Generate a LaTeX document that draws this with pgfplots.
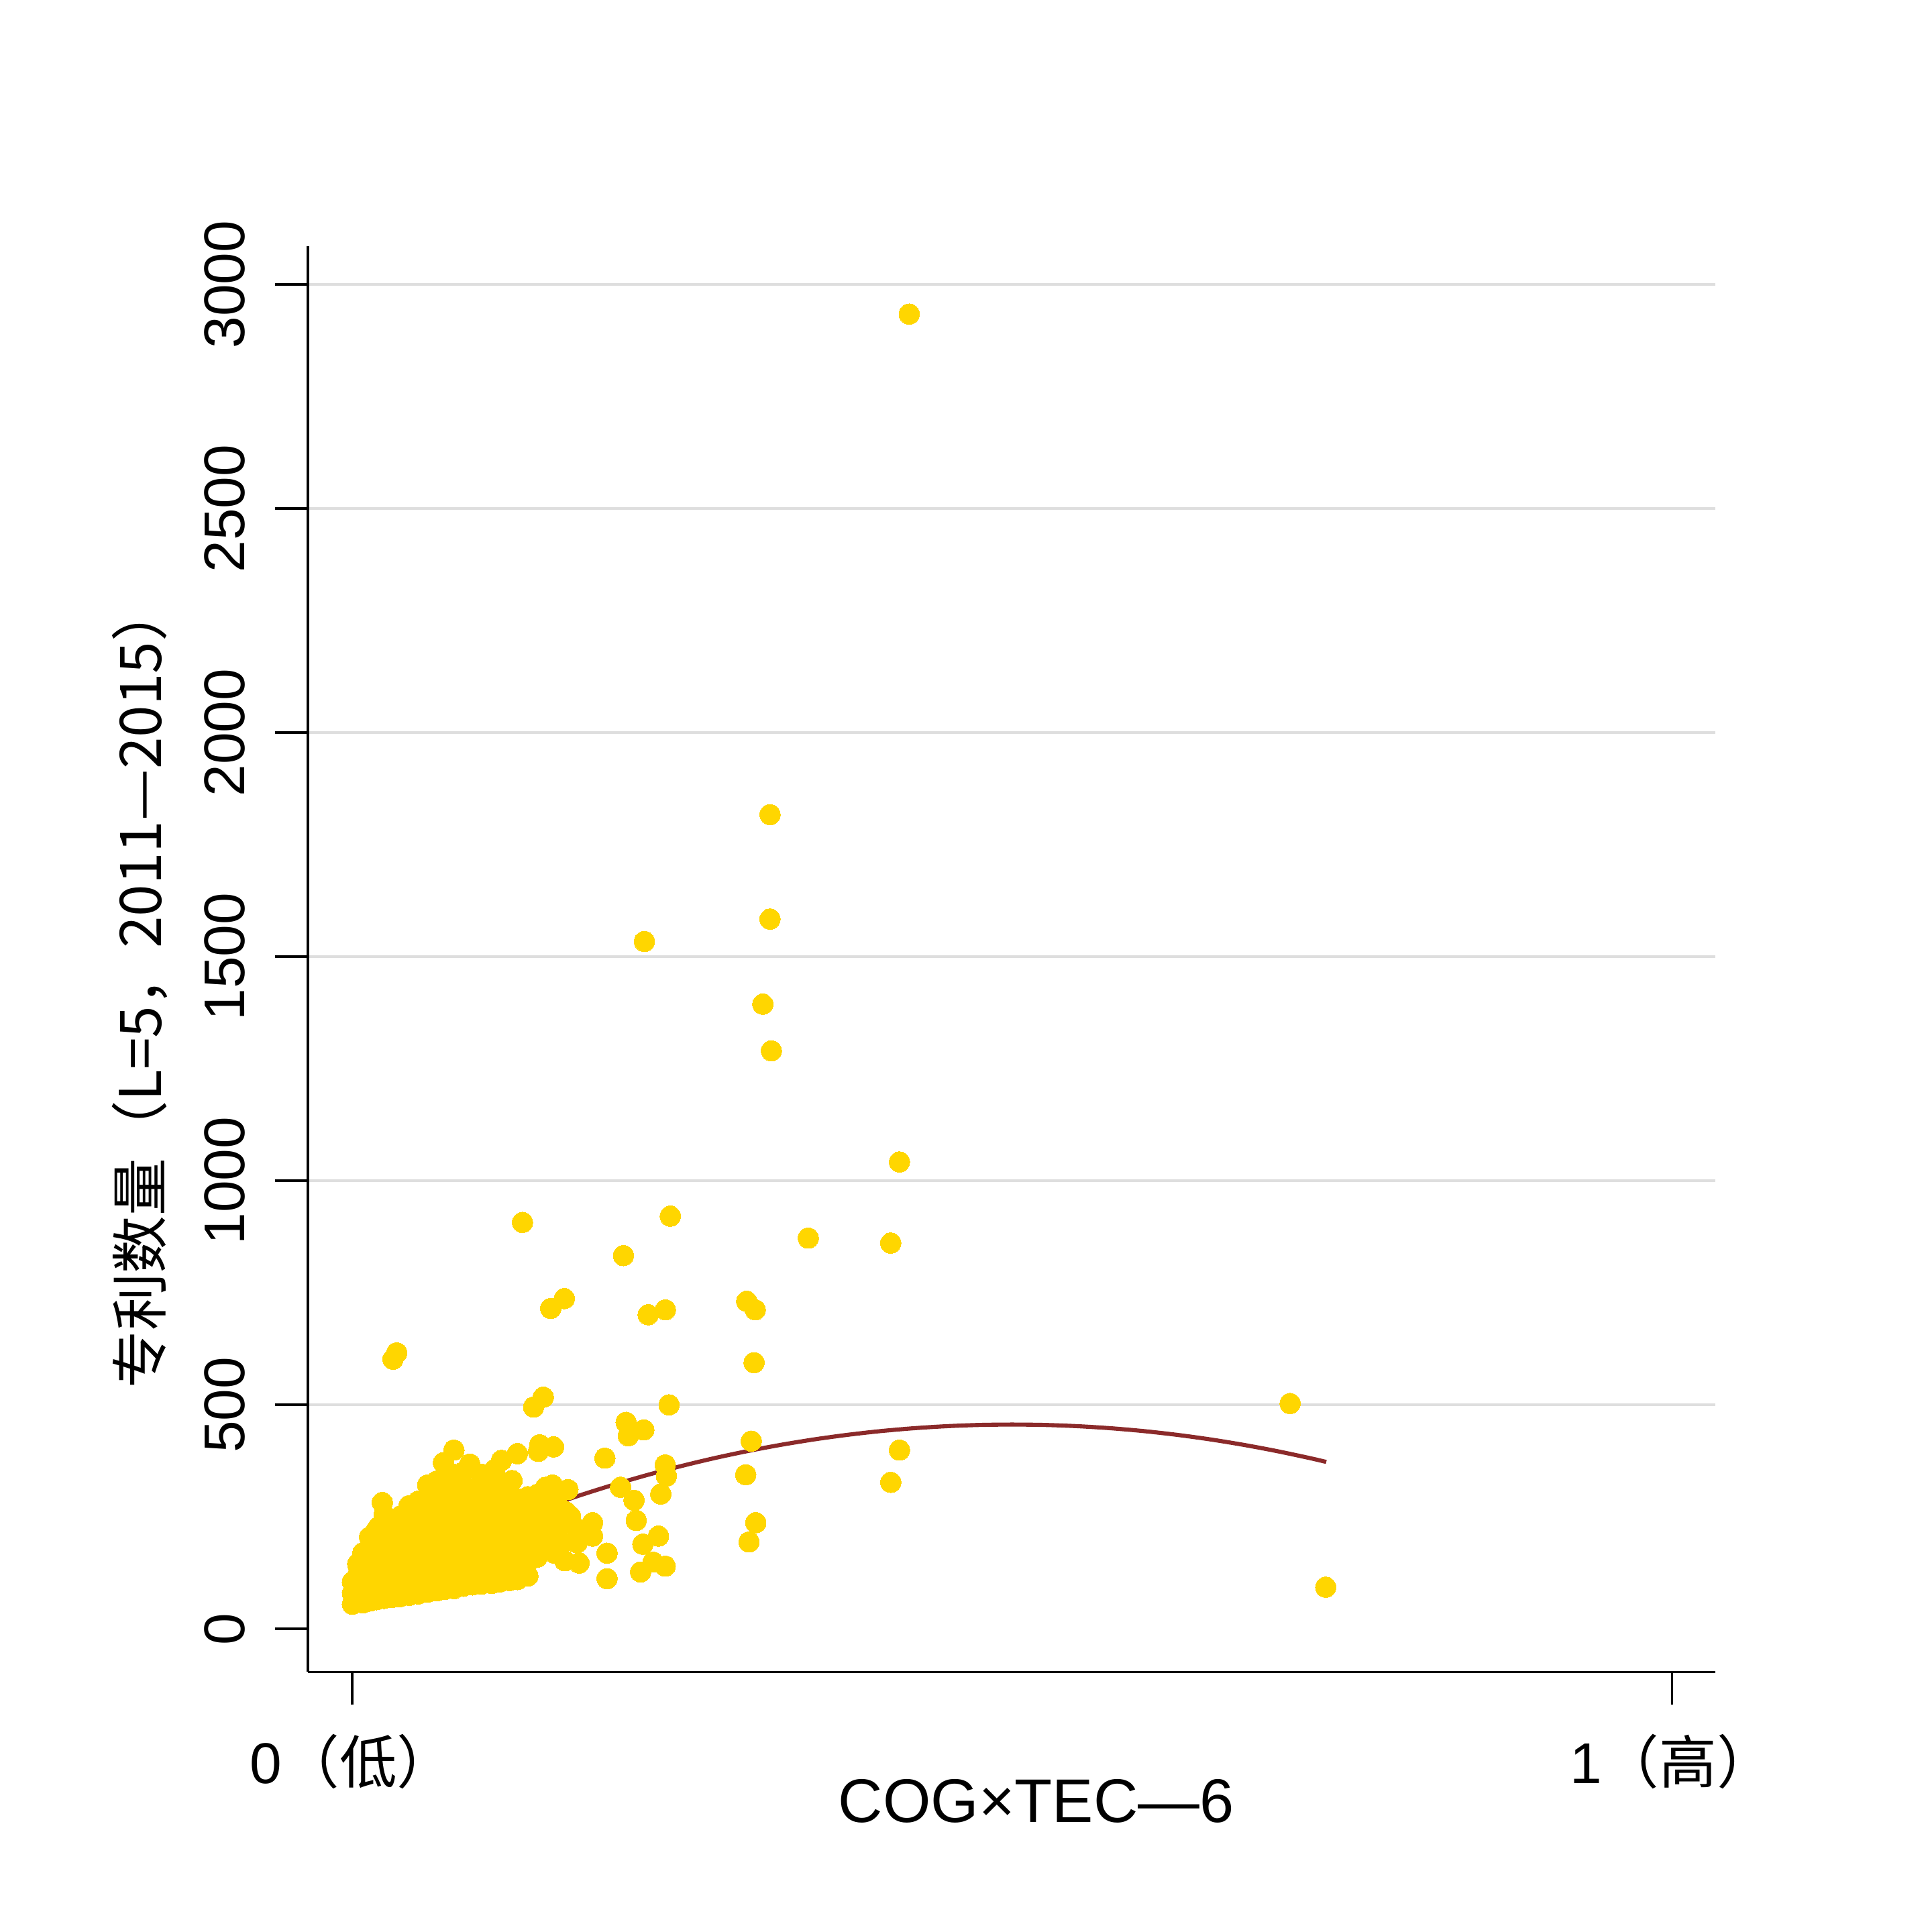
\documentclass[border=0pt]{standalone}
\usepackage{pgfplots}
\pgfplotsset{compat=1.18}
\usepackage{fontspec}
\setmainfont{Liberation Sans}
\newfontfamily\cjk{Noto Sans CJK SC}
\definecolor{ptyellow}{RGB}{255,214,0}
\definecolor{fitred}{RGB}{139,42,42}
\definecolor{gridgray}{RGB}{222,222,222}
\pgfplotstableread{
x y
0.000 55
0.000 80
0.000 105
0.004 60
0.004 90
0.004 120
0.004 145
0.008 58
0.008 85
0.008 112
0.008 140
0.008 170
0.013 62
0.013 92
0.013 122
0.013 152
0.013 182
0.013 205
0.018 65
0.018 95
0.018 128
0.018 160
0.018 190
0.018 220
0.024 68
0.024 100
0.024 132
0.024 165
0.024 198
0.024 230
0.024 255
0.030 70
0.030 102
0.030 135
0.030 170
0.030 205
0.030 240
0.036 72
0.036 105
0.036 140
0.036 175
0.036 210
0.036 245
0.043 75
0.043 108
0.043 142
0.043 178
0.043 212
0.043 248
0.043 275
0.050 78
0.050 110
0.050 145
0.050 180
0.050 215
0.050 250
0.050 285
0.057 82
0.057 115
0.057 150
0.057 185
0.057 220
0.057 255
0.057 290
0.057 321
0.064 85
0.064 118
0.064 152
0.064 188
0.064 225
0.064 260
0.064 295
0.064 330
0.070 88
0.070 120
0.070 155
0.070 192
0.070 228
0.070 265
0.070 300
0.070 340
0.069 371
0.077 90
0.077 125
0.077 160
0.077 195
0.077 232
0.077 270
0.077 305
0.077 345
0.077 399
0.084 95
0.084 128
0.084 162
0.084 198
0.084 235
0.084 272
0.084 310
0.084 350
0.091 98
0.091 130
0.091 165
0.091 200
0.091 238
0.091 275
0.091 312
0.089 368
0.098 100
0.098 135
0.098 170
0.098 205
0.098 242
0.098 280
0.098 318
0.098 345
0.105 102
0.105 138
0.105 172
0.105 208
0.105 245
0.105 282
0.105 320
0.108 356
0.112 105
0.112 140
0.112 175
0.112 210
0.112 248
0.112 285
0.112 322
0.113 376
0.119 108
0.119 142
0.119 178
0.119 215
0.119 250
0.119 288
0.121 331
0.126 112
0.126 145
0.126 180
0.126 218
0.126 255
0.126 290
0.125 391
0.133 118
0.133 150
0.133 185
0.133 220
0.133 258
0.133 295
0.140 160
0.140 195
0.140 230
0.140 265
0.140 300
0.142 411
0.147 205
0.147 240
0.147 275
0.1415 172
0.161 152
0.1588 192
0.1517 316
0.0227 282
0.0196 227
0.0366 252
0.106 102
0.126 112
0.125 110
0.130 118
0.422 2934
0.3165 1817
0.3165 1584
0.2213 1534
0.311 1394
0.3175 1290
0.4146 1042
0.1289 907
0.2409 921
0.3455 872
0.408 861
0.2054 833
0.1606 737
0.1503 715
0.2241 701
0.2372 712
0.2988 731
0.3053 712
0.0336 616
0.0308 602
0.3044 594
0.1447 517
0.1373 495
0.240 500
0.7106 503
0.2074 461
0.2209 444
0.2091 431
0.3023 419
0.4146 399
0.1914 381
0.2371 366
0.238 341
0.2981 344
0.408 327
0.2337 301
0.2032 316
0.2134 287
0.2151 242
0.232 207
0.2201 189
0.3057 237
0.3006 194
0.2278 149
0.2184 127
0.2371 140
0.193 112
0.193 169
0.1718 147
0.1532 169
0.182 237
0.182 207
0.1702 192
0.1651 252
0.1685 227
0.155 222
0.150 242
0.1516 321
0.1634 311
0.1465 316
0.1414 291
0.1465 261
0.145 211
0.155 281
0.162 261
0.7376 93
0.1524 406
0.141 396
}\scatterdata
\pgfplotstableread{
x y
0.000 88
0.025 123.9
0.050 157.9
0.075 190.1
0.100 220.5
0.125 249
0.150 275.7
0.175 300.5
0.200 323.5
0.225 344.7
0.250 364
0.275 381.5
0.300 397.1
0.325 410.9
0.350 422.9
0.375 433
0.400 441.3
0.425 447.7
0.450 452.3
0.475 455.1
0.500 456
0.525 455.1
0.550 452.3
0.575 447.7
0.600 441.3
0.625 433
0.650 422.9
0.675 410.9
0.700 397.1
0.725 381.5
0.738 372.6
}\fitdata
\begin{document}
\begin{tikzpicture}
\path[use as bounding box] (0,0) rectangle (470.4pt,470.4pt);
\begin{axis}[
  at={(75pt,63.3pt)}, anchor=south west,
  width=342.6pt, height=347.1pt, scale only axis,
  xmin=-0.0336, xmax=1.0327, ymin=-96.2, ymax=3085,
  axis x line*=bottom, axis y line*=left,
  axis line style={line width=0.6pt, black},
  tick align=outside, major tick length=8pt,
  tick style={line width=0.6pt, black},
  xtick={0,1}, xticklabels={0\cjk{（低）}, 1\cjk{（高）}},
  ytick={500,1000,...,3000},
  extra y ticks={0}, extra y tick style={grid=none},
  ymajorgrids, grid style={gridgray, line width=0.6pt},
  /pgf/number format/assume math mode=true,
  /pgf/number format/1000 sep={},
  ticklabel style={font=\fontsize{14}{16}\selectfont},
  yticklabel style={xshift=-7.5pt, rotate=90, anchor=base, inner sep=0pt},
  xticklabel style={anchor=base, inner sep=0pt, yshift=-19.2pt},
  xlabel={COG×TEC—6},
  xlabel style={font=\fontsize{15}{18}\selectfont, at={(axis description cs:0.5175,0)}, anchor=center, yshift=-31.5pt},
  ylabel={\cjk{专利数量（}L=5\cjk{，}2011—2015\cjk{）}},
  ylabel style={font=\fontsize{14}{17}\selectfont, at={(axis description cs:-0.1197,0.481)}, anchor=center},
  clip=false,
]
\addplot[only marks, mark=*, color=ptyellow, mark size=2.5pt, mark options={fill=ptyellow, draw=ptyellow, line width=0pt}] table[x=x,y=y] {\scatterdata};
\addplot[fitred, line width=1pt, smooth] table[x=x,y=y] {\fitdata};
\end{axis}
\end{tikzpicture}
\end{document}
